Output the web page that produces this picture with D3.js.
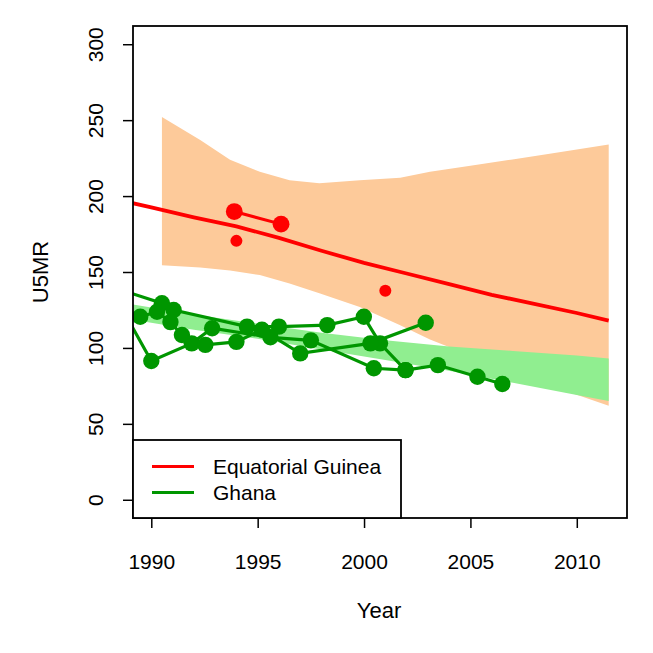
<!DOCTYPE html>
<html>
<head>
<meta charset="utf-8">
<script src="https://cdn.jsdelivr.net/npm/d3@7"></script>
<style>
  body { margin: 0; background: #fff; }
  svg text { font-family: "Liberation Sans", Arial, Helvetica, sans-serif; fill: #000; }
</style>
</head>
<body>
<svg id="chart" width="653" height="653"></svg>
<script>
// tick labels
const yearTicks = [1990, 1995, 2000, 2005, 2010];
const u5mrTicks = [0, 50, 100, 150, 200, 250, 300];

// Equatorial Guinea: uncertainty band + trend line
const guineaBandYears = [1990.5, 1992.3, 1993.7, 1995.1, 1996.5, 1997.9, 1999.8, 2001.7, 2003.1, 2005.0, 2006.9, 2008.8, 2011.5];
const guineaBandUpper = [252, 237, 224, 216, 210.5, 208.5, 210.5, 212, 216, 220, 224, 228, 234];
const guineaBandLower = [154.5, 153, 151, 148, 142.5, 136, 127, 115, 105.5, 95, 85, 75, 62];
const guineaTrendYears = [1988, 1990, 1992, 1994, 1996, 1998, 2000, 2002, 2004, 2006, 2008, 2010, 2011.5];
const guineaTrendU5mr = [199, 192.5, 186, 180, 172.5, 164, 156, 149, 142, 135, 129, 123, 118];

// Equatorial Guinea observations
const guineaSurveyYears = [1993.9, 1996.1];
const guineaSurveyU5mr = [189.8, 181.5];
const guineaSingleYears = [1994.0, 2001.0];
const guineaSingleU5mr = [170.5, 137.6];

// Ghana: uncertainty band
const ghanaBandYears = [1988.5, 1992, 1995, 1998, 2001, 2004, 2007, 2010, 2011.5];
const ghanaBandUpper = [130, 122, 116, 110, 105, 101, 98, 95, 93];
const ghanaBandLower = [120, 112, 106, 99, 92, 85, 77, 69, 65];

// Ghana observation series, [year, U5MR]
const ghanaSeries1 = [[1986.0, 150], [1990.5, 129.4], [1991.05, 125], [1994.5, 114], [1996.0, 114], [1998.27, 115], [1999.99, 120.5], [2000.75, 103], [2001.95, 85.4]];
const ghanaSeries2 = [[1988.5, 129], [1990.0, 91.4], [1991.9, 103], [1992.86, 113], [1995.6, 107], [1997.5, 105], [2000.46, 86.6], [2001.95, 85.4], [2003.47, 88.7], [2005.33, 81], [2006.5, 76.2]];
const ghanaSeries3 = [[1987.0, 130], [1989.48, 120.5], [1990.27, 123.8], [1990.9, 117], [1991.44, 108.5], [1992.54, 102], [1994.0, 104], [1995.2, 112], [1997.0, 96.4], [2000.3, 103], [2002.9, 116.6]];

const red = '#ff0000';
const green = '#009600';

const plot = { left: 133, right: 627, top: 26, bottom: 518 };

const svg = d3.select('#chart');

/*
R-like axis ranges: xlim 1990..2011.5 and ylim 0..300, each widened by 4%.
*/
const x = d3.scaleLinear().domain([1989.14, 2012.36]).range([plot.left, plot.right]);
const y = d3.scaleLinear().domain([-12, 312]).range([plot.bottom, plot.top]);

svg.append('clipPath').attr('id', 'plotClip')
  .append('rect')
  .attr('x', plot.left).attr('y', plot.top)
  .attr('width', plot.right - plot.left).attr('height', plot.bottom - plot.top);

const layer = svg.append('g').attr('clip-path', 'url(#plotClip)');

const band = (years, upper, lower) => d3.area()
  .x((d, i) => x(years[i]))
  .y0((d, i) => y(lower[i]))
  .y1((d, i) => y(upper[i]))(years);

layer.append('path')
  .attr('d', band(guineaBandYears, guineaBandUpper, guineaBandLower))
  .attr('fill', '#fdca9a');

layer.append('path')
  .attr('d', band(ghanaBandYears, ghanaBandUpper, ghanaBandLower))
  .attr('fill', '#90ee90');

const line = d3.line().x(d => x(d[0])).y(d => y(d[1]));

layer.append('path')
  .attr('d', line(d3.zip(guineaTrendYears, guineaTrendU5mr)))
  .attr('fill', 'none')
  .attr('stroke', red)
  .attr('stroke-width', 3.8);

// red survey: two points joined
const guineaSurvey = d3.zip(guineaSurveyYears, guineaSurveyU5mr);
layer.append('path')
  .attr('d', line(guineaSurvey))
  .attr('fill', 'none')
  .attr('stroke', red)
  .attr('stroke-width', 3);
layer.selectAll('.guinea-survey').data(guineaSurvey).join('circle')
  .attr('class', 'guinea-survey')
  .attr('cx', d => x(d[0])).attr('cy', d => y(d[1]))
  .attr('r', 8.4).attr('fill', red);
layer.selectAll('.guinea-single').data(d3.zip(guineaSingleYears, guineaSingleU5mr)).join('circle')
  .attr('class', 'guinea-single')
  .attr('cx', d => x(d[0])).attr('cy', d => y(d[1]))
  .attr('r', 6).attr('fill', red);

// green series: lines first, points on top
const ghanaSeries = [ghanaSeries1, ghanaSeries2, ghanaSeries3];
ghanaSeries.forEach(series => {
  layer.append('path')
    .attr('d', line(series))
    .attr('fill', 'none')
    .attr('stroke', green)
    .attr('stroke-width', 3.2);
});
ghanaSeries.forEach(series => {
  layer.append('g').selectAll('circle').data(series).join('circle')
    .attr('cx', d => x(d[0])).attr('cy', d => y(d[1]))
    .attr('r', 8.2).attr('fill', green);
});

/*
Axes: d3 axis helpers for ticks, then restyle to look like base R graphics.
*/
const xAxis = svg.append('g')
  .attr('transform', `translate(0,${plot.bottom})`)
  .call(d3.axisBottom(x).tickValues(yearTicks).tickSize(10).tickPadding(26).tickFormat(d3.format('d')));
xAxis.select('.domain').remove();
xAxis.attr('font-size', 21).attr('font-family', null);
xAxis.selectAll('.tick line').attr('stroke-width', 1.5);

const yAxis = svg.append('g')
  .attr('transform', `translate(${plot.left},0)`)
  .call(d3.axisLeft(y).tickValues(u5mrTicks).tickSize(10));
yAxis.select('.domain').remove();
yAxis.attr('font-size', 21).attr('font-family', null);
yAxis.selectAll('.tick line').attr('stroke-width', 1.5);
yAxis.selectAll('.tick text')
  .attr('x', 0)
  .attr('y', -38)
  .attr('dy', '0.36em')
  .attr('text-anchor', 'middle')
  .attr('transform', 'rotate(-90)');

svg.append('rect')
  .attr('x', plot.left).attr('y', plot.top)
  .attr('width', plot.right - plot.left).attr('height', plot.bottom - plot.top)
  .attr('fill', 'none').attr('stroke', '#000').attr('stroke-width', 1.8);

svg.append('text')
  .attr('x', 379).attr('y', 610).attr('dy', '0.36em')
  .attr('text-anchor', 'middle').attr('font-size', 22)
  .text('Year');

svg.append('text')
  .attr('transform', 'translate(40,272) rotate(-90)')
  .attr('dy', '0.36em')
  .attr('text-anchor', 'middle').attr('font-size', 22)
  .text('U5MR');

// legend, bottom left
const legendNames = ['Equatorial Guinea', 'Ghana'];
const legendColors = [red, green];
const legend = svg.append('g');
legend.append('rect')
  .attr('x', plot.left).attr('y', 440)
  .attr('width', 268).attr('height', plot.bottom - 440)
  .attr('fill', '#fff').attr('stroke', '#000').attr('stroke-width', 1.8);
const legendRow = legend.selectAll('g.row').data(legendNames).join('g')
  .attr('class', 'row')
  .attr('transform', (d, i) => `translate(0,${466.5 + i * 26})`);
legendRow.append('line')
  .attr('x1', 152).attr('x2', 194)
  .attr('stroke', (d, i) => legendColors[i]).attr('stroke-width', 3);
legendRow.append('text')
  .attr('x', 213).attr('dy', '0.36em').attr('font-size', 21)
  .text(d => d);
</script>
</body>
</html>
